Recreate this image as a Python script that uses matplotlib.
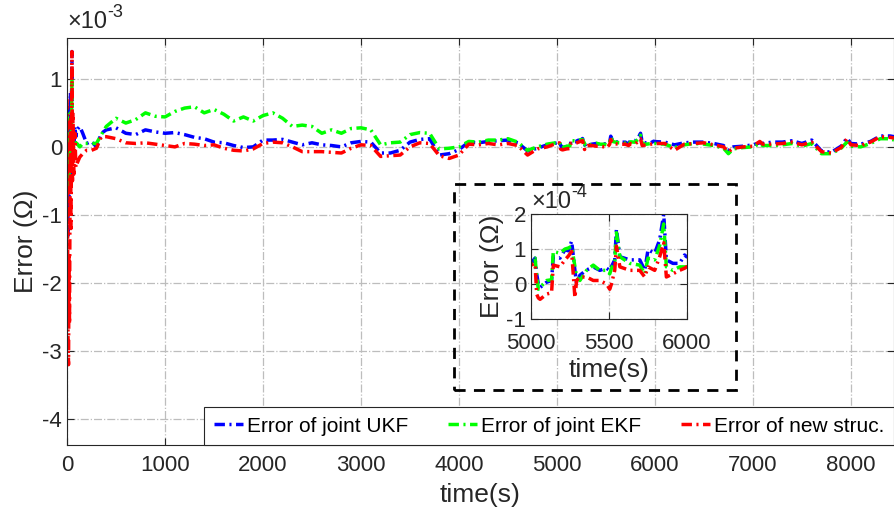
import numpy as np
import matplotlib
matplotlib.use("Agg")
import matplotlib.pyplot as plt
from matplotlib.patches import Rectangle
from matplotlib.ticker import FuncFormatter

plt.rcParams['font.family'] = ['Liberation Sans', 'DejaVu Sans']
plt.rcParams['axes.unicode_minus'] = False

# time axis (s)
t_early = [0, 5, 10, 15, 20, 25, 30, 35, 40, 45, 50, 55, 60, 70, 80, 90, 100, 130, 160, 200, 250, 300, 350]
t_mid = [400, 500, 600, 700, 800, 900, 1000, 1100, 1200, 1300,
         1400, 1500, 1600, 1700, 1800, 1900, 2000, 2100, 2200, 2300,
         2400, 2500, 2600, 2700, 2800, 2900, 3000, 3100, 3200, 3300,
         3400, 3500, 3600, 3700, 3800, 3900, 4000, 4100, 4200, 4300,
         4400, 4500, 4600, 4700, 4800, 4900]
t_zoom = [5000, 5026, 5036, 5047, 5058, 5100, 5132, 5143, 5186, 5218, 5240, 5261,
          5282, 5293, 5314, 5357, 5400, 5442, 5485, 5506, 5517, 5538, 5549, 5571,
          5635, 5699, 5731, 5752, 5795, 5827, 5853, 5870, 5912, 5955, 5987, 6000]
t_late = [6100, 6200, 6300, 6400, 6500, 6600, 6700, 6750, 6800, 6900, 7000, 7070, 7100, 7200,
          7300, 7400, 7500, 7600, 7700, 7800, 7900, 7960, 8000, 8100, 8200, 8300, 8400, 8440]

# errors in units of 1e-3 ohm
ukf_early = [0.6, 0.2, -1.3, -0.6, -0.9, 0.3, -0.4, 0.8, -0.2, 0.4, 1.4, 0.1, 0.3, 0.0, 0.3, 0.15, 0.25, 0.3, 0.2, 0.05, 0.08, 0.0, 0.2]
ekf_early = [0.5, 0.0, -0.6, -0.3, -0.5, 0.2, -0.2, 0.5, 0.0, 0.3, 1.0, 0.0, 0.2, 0.05, 0.1, 0.05, 0.05, 0.0, 0.05, 0.05, 0.05, 0.05, 0.18]
new_early = [0.7, -1.0, -2.8, -3.2, -1.6, -2.6, -0.8, 0.4, -1.2, 0.6, 1.4, -0.5, 0.5, -0.4, 0.2, -0.3, -0.25, -0.15, -0.1, -0.05, -0.05, -0.02, 0.15]

ukf_mid = [0.25, 0.28, 0.20, 0.18, 0.25, 0.22, 0.20, 0.21, 0.18, 0.14,
           0.12, 0.07, 0.06, 0.02, -0.01, 0.00, 0.10, 0.10, 0.11, 0.07,
           0.03, 0.06, 0.03, 0.02, 0.00, 0.06, 0.08, 0.07, -0.09, -0.09,
           -0.05, 0.07, 0.11, 0.12, -0.12, -0.10, -0.04, 0.07, 0.06, 0.08,
           0.09, 0.10, 0.06, -0.06, -0.02, 0.03]
ekf_mid = [0.30, 0.42, 0.35, 0.40, 0.50, 0.45, 0.44, 0.52, 0.57, 0.59,
           0.50, 0.55, 0.48, 0.38, 0.44, 0.38, 0.46, 0.50, 0.42, 0.30,
           0.32, 0.30, 0.20, 0.25, 0.20, 0.27, 0.28, 0.25, 0.03, 0.06,
           0.07, 0.18, 0.21, 0.20, -0.03, -0.02, 0.00, 0.08, 0.07, 0.10,
           0.10, 0.12, 0.07, -0.05, 0.00, 0.04]
new_mid = [0.15, 0.12, 0.06, 0.05, 0.06, 0.04, 0.02, 0.00, 0.05, 0.04,
           0.02, 0.03, -0.02, -0.05, -0.06, -0.03, 0.05, 0.07, 0.06, 0.00,
           -0.07, -0.07, -0.07, -0.08, -0.09, -0.02, 0.03, 0.02, -0.14, -0.13,
           -0.12, 0.00, 0.06, 0.05, -0.13, -0.17, -0.12, 0.04, 0.03, 0.05,
           0.03, 0.05, 0.02, -0.12, -0.03, 0.00]

ukf_zoom = [0.059, 0.074, 0.029, 0.0, -0.01, 0.005, 0.01, 0.078, 0.074, 0.098, 0.095, 0.123,
            0.039, 0.0, 0.025, 0.04, 0.049, 0.039, 0.045, 0.039, 0.05, 0.069, 0.157, 0.078,
            0.069, 0.069, 0.039, 0.098, 0.088, 0.127, 0.2, 0.069, 0.059, 0.059, 0.083, 0.078]
ekf_zoom = [0.064, 0.074, 0.025, -0.015, -0.01, 0.01, 0.012, 0.093, 0.088, 0.10, 0.103, 0.108,
            0.049, 0.02, 0.01, 0.039, 0.054, 0.039, 0.039, 0.029, 0.045, 0.065, 0.147, 0.078,
            0.059, 0.054, 0.029, 0.074, 0.069, 0.11, 0.172, 0.049, 0.039, 0.049, 0.049, 0.049]
new_zoom = [0.054, 0.059, -0.029, -0.04, -0.044, -0.029, -0.025, 0.054, 0.049, 0.069, 0.08, 0.093,
            -0.039, 0.01, 0.02, 0.02, 0.01, 0.01, 0.0, -0.015, 0.0, 0.039, 0.108, 0.049,
            0.039, 0.039, 0.02, 0.049, 0.039, 0.078, 0.118, 0.02, 0.029, 0.039, 0.045, 0.049]

ukf_late = [0.07, 0.03, 0.06, 0.07, 0.07, 0.05, 0.02, -0.05, 0.00, 0.01, 0.03, 0.06, 0.05, 0.07,
            0.07, 0.09, 0.05, 0.10, -0.06, -0.08, 0.01, 0.13, 0.05, 0.04, 0.08, 0.16, 0.16, 0.15]
ekf_late = [0.04, -0.01, 0.03, 0.05, 0.04, 0.02, -0.02, -0.10, -0.03, -0.01, 0.00, 0.05, 0.02, 0.02,
            0.03, 0.05, 0.01, 0.05, -0.10, -0.10, -0.02, 0.07, 0.01, 0.00, 0.05, 0.12, 0.12, 0.10]
new_late = [0.05, -0.05, 0.04, 0.05, 0.06, 0.03, 0.00, -0.07, -0.02, 0.00, 0.01, 0.08, 0.04, 0.04,
            0.05, 0.07, 0.03, 0.07, -0.07, -0.09, -0.01, 0.12, 0.03, 0.02, 0.07, 0.15, 0.14, 0.13]

t = np.array(t_early + t_mid + t_zoom + t_late, dtype=float)
ukf = np.array(ukf_early + ukf_mid + ukf_zoom + ukf_late) * 1e-3
ekf = np.array(ekf_early + ekf_mid + ekf_zoom + ekf_late) * 1e-3
new = np.array(new_early + new_mid + new_zoom + new_late) * 1e-3

labels = ['Error of joint UKF', 'Error of joint EKF', 'Error of new struc.']
colors = ['#0000ff', '#00ff00', '#ff0000']
dash = (0, (3, 1.3, 0.6, 1.3))
lw = 2.5
txt = '#262626'

fig = plt.figure(figsize=(8.94, 5.16), dpi=100)
ax = fig.add_axes([0.075, 0.1376, 0.925, 0.7888])

for y, c, lab in zip([ukf, ekf, new], colors, labels):
    ax.plot(t, y, color=c, lw=lw, linestyle=dash, label=lab)

ax.set_xlim(0, 8440)
ax.set_ylim(-4.38e-3, 1.6e-3)
ax.set_xticks([0, 1000, 2000, 3000, 4000, 5000, 6000, 7000, 8000])
ax.set_yticks([-4e-3, -3e-3, -2e-3, -1e-3, 0, 1e-3])

def style(a, exp, xpad):
    scale = 10.0 ** exp
    a.yaxis.set_major_formatter(FuncFormatter(lambda v, p: '%g' % round(v / scale, 6)))
    a.grid(True, color='#bdbdbd', linestyle='-.', lw=0.9)
    a.tick_params(direction='in', labelsize=16, colors=txt, top=True, right=True, length=5)
    a.tick_params(axis='x', pad=xpad)
    for s in a.spines.values():
        s.set_color(txt)
        s.set_linewidth(0.8)
    base = a.text(0.0, 1.012, '×10', transform=a.transAxes, fontsize=17, color=txt,
                  ha='left', va='bottom')
    a.annotate('%d' % exp, xy=(1.0, 0.55), xycoords=base, fontsize=13, color=txt,
               ha='left', va='bottom')

style(ax, -3, 7)
ax.set_xlabel('time(s)', fontsize=19, color=txt, labelpad=5)
ax.set_ylabel('Error (Ω)', fontsize=19, color=txt, labelpad=3)

leg = ax.legend(loc='lower right', ncol=3, fontsize=15, frameon=True, fancybox=False,
                edgecolor=txt, framealpha=1, handlelength=1.4, handletextpad=0.2,
                columnspacing=1.9, borderaxespad=0.0, borderpad=0.45)
leg.get_frame().set_linewidth(0.8)

# zoomed inset
ins = fig.add_axes([0.594, 0.382, 0.174, 0.203])
for y, c in zip([ukf, ekf, new], colors):
    ins.plot(t, y, color=c, lw=lw, linestyle=dash)
ins.set_xlim(5000, 6000)
ins.set_ylim(-1e-4, 2e-4)
ins.set_xticks([5000, 5500, 6000])
ins.set_yticks([-1e-4, 0, 1e-4, 2e-4])
style(ins, -4, 10)
ins.set_xlabel('time(s)', fontsize=19, color=txt, labelpad=3)
ins.set_ylabel('Error (Ω)', fontsize=19, color=txt, labelpad=2)

fig.patches.append(Rectangle((0.508, 0.244), 0.315, 0.399, transform=fig.transFigure,
                             fill=False, edgecolor='black', lw=2, linestyle=(0, (4, 3))))

fig.savefig('out.png', dpi=100)
